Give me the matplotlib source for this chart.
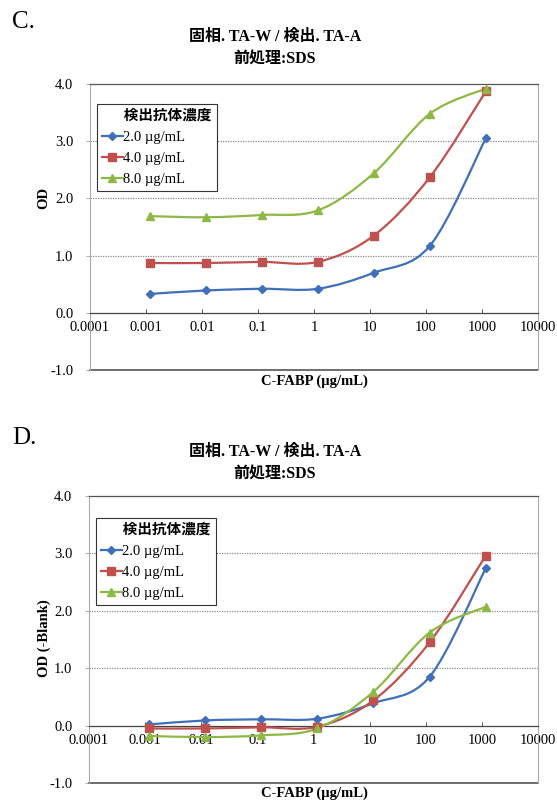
import numpy as np
import matplotlib
matplotlib.use("Agg")
import matplotlib.pyplot as plt
from matplotlib.path import Path
from matplotlib.patches import PathPatch
from matplotlib.lines import Line2D

plt.rcParams['font.family'] = ['Liberation Serif', 'Noto Sans CJK JP']

# ---------------- data ----------------
conc = [0.00117, 0.0117, 0.117, 1.17, 11.7, 117, 1170]   # C-FABP (µg/mL)
series_labels = ["2.0 µg/mL", "4.0 µg/mL", "8.0 µg/mL"]
legend_title = "検出抗体濃度"

od_c_20 = [0.33, 0.39, 0.42, 0.42, 0.70, 1.17, 3.05]
od_c_40 = [0.87, 0.87, 0.89, 0.89, 1.35, 2.37, 3.87]
od_c_80 = [1.69, 1.67, 1.71, 1.79, 2.44, 3.48, 3.92]

od_d_20 = [0.02, 0.09, 0.11, 0.12, 0.39, 0.85, 2.74]
od_d_40 = [-0.05, -0.05, -0.03, -0.02, 0.44, 1.45, 2.96]
od_d_80 = [-0.18, -0.20, -0.17, -0.05, 0.59, 1.62, 2.07]

x_ticks = [0.0001, 0.001, 0.01, 0.1, 1, 10, 100, 1000, 10000]
x_tick_labels = ["0.0001", "0.001", "0.01", "0.1", "1", "10", "100", "1000", "10000"]
y_ticks = [-1.0, 0.0, 1.0, 2.0, 3.0, 4.0]

title_line1 = "固相. TA-W / 検出. TA-A"
title_line2 = "前処理:SDS"
xlabel = "C-FABP (µg/mL)"
ylabel_c = "OD"
ylabel_d = "OD (-Blank)"

colors = ["#3F6FB8", "#C0504D", "#8DB845"]
markers = ["D", "s", "^"]
msizes = [4.5, 5.5, 6]

W, H = 557, 800
fig = plt.figure(figsize=(W / 100, H / 100), dpi=100)
fig.patch.set_facecolor("white")


def smooth_patch(ax, xs, ys, color):
    """Excel-like smoothed line: Catmull-Rom as cubic Beziers in (log x, y)."""
    u = np.log10(np.asarray(xs, float))
    v = np.asarray(ys, float)
    n = len(u)
    verts = [(u[0], v[0])]
    codes = [Path.MOVETO]
    for i in range(n - 1):
        p0 = (u[max(i - 1, 0)], v[max(i - 1, 0)])
        p1 = (u[i], v[i])
        p2 = (u[i + 1], v[i + 1])
        p3 = (u[min(i + 2, n - 1)], v[min(i + 2, n - 1)])
        c1 = (p1[0] + (p2[0] - p0[0]) / 6, p1[1] + (p2[1] - p0[1]) / 6)
        c2 = (p2[0] - (p3[0] - p1[0]) / 6, p2[1] - (p3[1] - p1[1]) / 6)
        verts += [c1, c2, p2]
        codes += [Path.CURVE4] * 3
    verts = np.array(verts)
    verts[:, 0] = 10 ** verts[:, 0]
    patch = PathPatch(Path(verts, codes), fill=False, edgecolor=color,
                      linewidth=1.6, zorder=3, transform=ax.transData)
    ax.add_patch(patch)


def panel(rect, series, ylabel, ylabel_y, legend_y, title_y, letter, letter_y, xlabel_y):
    ax = fig.add_axes(rect)
    ax.set_xscale("log")
    ax.set_xlim(1e-4, 1e4)
    ax.set_ylim(-1, 4)
    for ys, c, m, ms in zip(series, colors, markers, msizes):
        smooth_patch(ax, conc, ys, c)
        ax.plot(conc, ys, linestyle="none", marker=m, markersize=ms,
                color=c, markeredgecolor=c, zorder=4)
    # frame
    ax.spines["bottom"].set_position(("data", 0))
    ax.spines["bottom"].set_color("#444444")
    ax.spines["bottom"].set_linewidth(0.9)
    ax.spines["top"].set_color("#555555")
    ax.spines["top"].set_linewidth(0.9)
    ax.spines["left"].set_color("#aaaaaa")
    ax.spines["right"].set_color("#aaaaaa")
    ax.spines["left"].set_linewidth(0.8)
    ax.spines["right"].set_linewidth(0.8)
    ax.axhline(-1, color="#555555", linewidth=1.2, clip_on=False, zorder=2)
    for yy in [1, 2, 3]:
        ax.axhline(yy, color="#8a8a8a", linewidth=0.9, linestyle=(0, (1, 1)), zorder=1)
    ax.set_xticks(x_ticks)
    ax.set_xticklabels(x_tick_labels)
    ax.xaxis.set_minor_locator(matplotlib.ticker.NullLocator())
    ax.set_yticks(y_ticks)
    ax.set_yticklabels([f"{t:.1f}" for t in y_ticks])
    ax.tick_params(axis="x", direction="in", length=3, width=0.7, color="#555555",
                   pad=6, labelsize=10.5)
    ax.tick_params(axis="y", direction="out", length=3, width=0.7, color="#aaaaaa",
                   pad=9, labelsize=10.5)
    # legend
    handles = [Line2D([], [], color=c, marker=m, markersize=ms, linewidth=1.6)
               for c, m, ms in zip(colors, markers, msizes)]
    leg = ax.legend(handles, series_labels, title="      " + legend_title,
                    loc="upper left", bbox_to_anchor=(0.0156, legend_y),
                    frameon=True, fancybox=False, edgecolor="#333333",
                    framealpha=1, handlelength=1.4, handletextpad=0.0,
                    labelspacing=0.55, borderpad=0.35, borderaxespad=0,
                    prop={"size": 10.5}, alignment="left")
    leg.get_frame().set_linewidth(0.8)
    leg.get_title().set_fontsize(10.5)
    leg.get_title().set_fontweight("bold")
    # titles / labels
    fig.text(275 / W, 1 - title_y / H, title_line1, ha="center", va="center",
             fontsize=11.5, fontweight="bold")
    fig.text(275 / W, 1 - (title_y + 22) / H, title_line2, ha="center", va="center",
             fontsize=11.5, fontweight="bold")
    fig.text(12 / W, 1 - letter_y / H, letter, ha="left", va="center", fontsize=18)
    fig.text(44 / W, 1 - ylabel_y / H, ylabel, ha="center", va="center",
             rotation=90, fontsize=10.5, fontweight="bold")
    fig.text(314 / W, 1 - xlabel_y / H, xlabel, ha="center", va="center",
             fontsize=10.5, fontweight="bold")
    return ax


panel([90 / W, 1 - 370 / H, 448 / W, 286 / H],
      [od_c_20, od_c_40, od_c_80], ylabel_c, 198, 0.930, 37, "C.", 22, 381)
panel([89 / W, 1 - 783 / H, 449 / W, 287 / H],
      [od_d_20, od_d_40, od_d_80], ylabel_d, 638, 0.923, 452, "D.", 438, 793)

fig.savefig("out.png", dpi=100)
